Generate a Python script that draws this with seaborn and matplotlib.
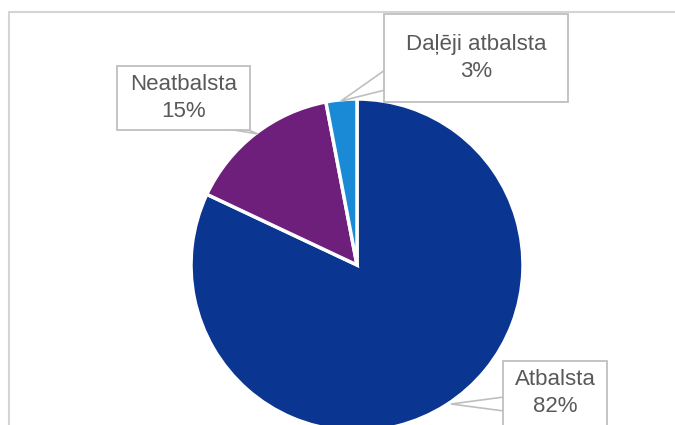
import matplotlib.pyplot as plt
import seaborn as sns
from matplotlib.patches import Polygon, Rectangle

# dati
labels = ["Atbalsta", "Neatbalsta", "Daļēji atbalsta"]
shares = [82, 15, 3]
colors = ["#0a3590", "#6e1f7c", "#1a8ad6"]

sns.set_theme(style="white")
plt.rcParams["font.family"] = ["Liberation Sans", "DejaVu Sans"]

W, H = 675, 425
fig = plt.figure(figsize=(6.75, 4.25), dpi=100)
ax = fig.add_axes([0, 0, 1, 1])

# ārējais rāmis
ax.add_patch(Rectangle((9, -20), 700, H - 12 + 20, fill=False, ec="#d4d4d4", lw=1.5))

cx, cy, r = 357, H - 265, 166
ax.pie(
    shares,
    colors=colors,
    startangle=90,
    counterclock=False,
    center=(cx, cy),
    radius=r,
    wedgeprops=dict(edgecolor="white", linewidth=2.5),
    frame=True,
)
ax.set_xlim(0, W)
ax.set_ylim(0, H)
ax.set_aspect("equal")
ax.axis("off")

# etiķešu kastes (x0, y0, x1, y1) un astes, pikseļos no augšas
boxes = [(503, 361, 607, 440), (117, 66, 250, 130), (384, 14, 568, 102)]
tails = [
    [(504, 397), (451, 404), (504, 411)],
    [(228, 129), (258, 134), (246, 129)],
    [(385, 70), (341, 101), (385, 90)],
]

for lab, val, (x0, y0, x1, y1), tail in zip(labels, shares, boxes, tails):
    ax.add_patch(Polygon([(x, H - y) for x, y in tail], closed=True,
                         fc="white", ec="#bfbfbf", lw=1.2, zorder=3))
    ax.add_patch(Rectangle((x0, H - y1), x1 - x0, y1 - y0,
                           fc="white", ec="#bfbfbf", lw=1.3, zorder=4))
    ty = (y0 + 32) if y1 > H else (y0 + y1) / 2
    ax.text((x0 + x1) / 2, H - ty, f"{lab}\n{val}%", ha="center", va="center",
            fontsize=16, color="#595959", linespacing=1.35, zorder=5)

fig.savefig("out.png", dpi=100)
